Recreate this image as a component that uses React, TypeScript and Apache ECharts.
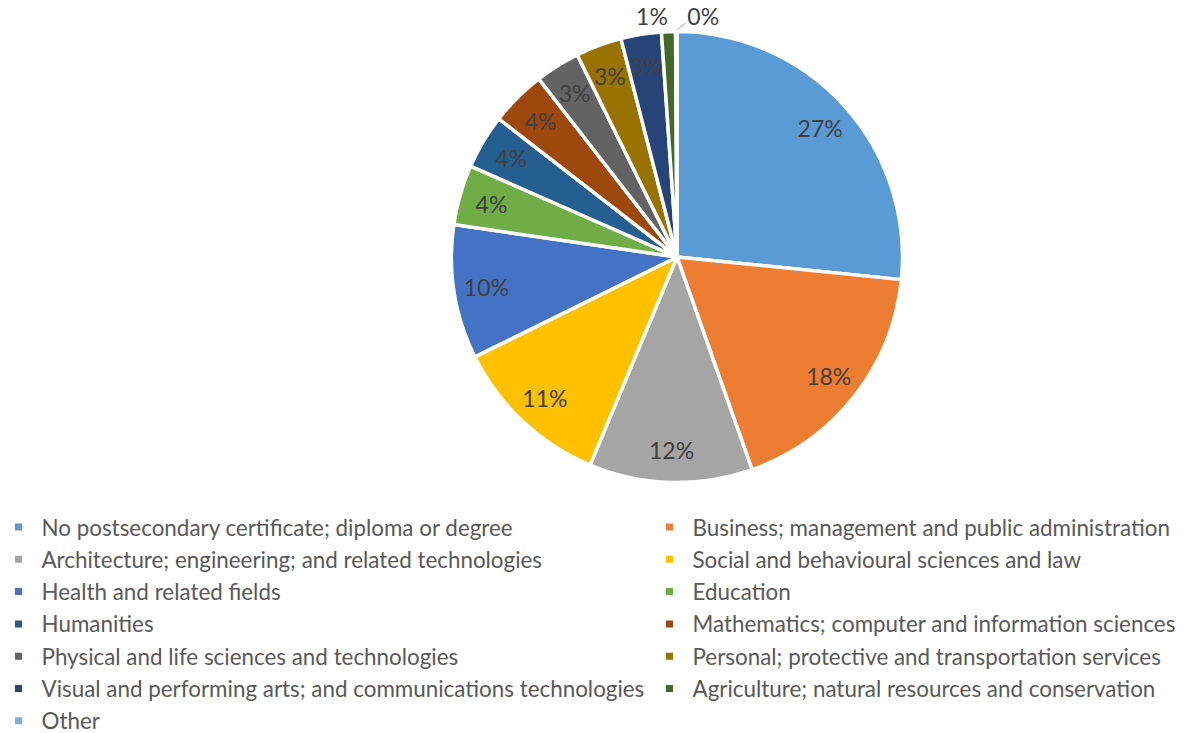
import React, { useEffect, useRef } from 'react';
import * as echarts from 'echarts';

const categories = [
  'No postsecondary certificate; diploma or degree',
  'Business; management and public administration',
  'Architecture; engineering; and related technologies',
  'Social and behavioural sciences and law',
  'Health and related fields',
  'Education',
  'Humanities',
  'Mathematics; computer and information sciences',
  'Physical and life sciences and technologies',
  'Personal; protective and transportation services',
  'Visual and performing arts; and communications technologies',
  'Agriculture; natural resources and conservation',
  'Other',
];

const shares = [26.6, 18.0, 11.7, 11.4, 9.6, 4.3, 3.9, 4.0, 3.2, 3.3, 2.9, 1.0, 0.1];

const colors = [
  '#5B9BD5', '#ED7D31', '#A5A5A5', '#FFC000', '#4472C4', '#70AD47', '#255E91',
  '#9E480E', '#636363', '#997300', '#264478', '#43682B', '#7CAFDD',
];

const outsideTopLeft = 'Agriculture; natural resources and conservation';
const outsideTopRight = 'Other';

const CENTER = [677, 257];
const R = 225.5;
const FONT = 'Lato, "Open Sans", sans-serif';

export default function App() {
  const ref = useRef<HTMLDivElement>(null);

  useEffect(() => {
    if (!ref.current) return;
    const chart = echarts.init(ref.current, null, { renderer: 'svg' });

    const pieData = categories.map((name, i) => ({ name, value: shares[i] }));
    const labelData = categories.map((name, i) => {
      const item: any = { name, value: shares[i] };
      if (name === outsideTopLeft) {
        item.label = { position: 'outside', distanceToLabelLine: 0 };
        item.labelLine = { show: false, length: 16, length2: 0 };
      } else if (name === outsideTopRight) {
        item.label = { position: 'outside', distanceToLabelLine: 0 };
        item.labelLine = { show: true, length: 6, length2: 0, lineStyle: { color: '#A6A6A6', width: 1 } };
      }
      return item;
    });
    const otherIndex = categories.indexOf(outsideTopRight);

    const legendCommon = {
      orient: 'vertical',
      top: 515,
      padding: 0,
      icon: 'rect',
      itemWidth: 9,
      itemHeight: 9,
      itemGap: 8.3,
      selectedMode: false,
      textStyle: {
        fontFamily: FONT,
        fontSize: 22.4,
        lineHeight: 24,
        color: '#595959',
        padding: [0, 0, 0, 13.5],
      },
    };

    chart.setOption({
      animation: false,
      color: colors,
      legend: [
        { ...legendCommon, left: 13, data: categories.filter((_, i) => i % 2 === 0) },
        { ...legendCommon, left: 664, data: categories.filter((_, i) => i % 2 === 1) },
      ],
      series: [
        {
          type: 'pie',
          center: CENTER,
          radius: R,
          startAngle: 90,
          clockwise: true,
          avoidLabelOverlap: false,
          label: { show: false },
          labelLine: { show: false },
          emphasis: { disabled: true },
          itemStyle: { borderColor: '#ffffff', borderWidth: 3.5 },
          data: pieData,
        },
        {
          type: 'pie',
          center: CENTER,
          radius: [154.5, R],
          startAngle: 90,
          clockwise: true,
          silent: true,
          avoidLabelOverlap: false,
          emphasis: { disabled: true },
          itemStyle: { color: 'transparent', borderWidth: 0 },
          label: {
            show: true,
            position: 'inside',
            color: '#404040',
            fontFamily: FONT,
            fontSize: 23,
            formatter: (p: any) => Math.round(p.percent) + '%',
          },
          labelLine: { show: false },
          labelLayout: (p: any) => {
            if (p.dataIndex !== otherIndex) return {};
            const x0 = p.rect.x + p.rect.width / 2;
            const y0 = p.rect.y;
            return {
              x: x0 + 11,
              y: y0 - 16,
              align: 'left',
              verticalAlign: 'middle',
              labelLinePoints: [[x0, y0 - 1], [x0 + 10, y0 - 9]],
            };
          },
          data: labelData,
        },
      ],
    });

    return () => chart.dispose();
  }, []);

  return (
    <div
      ref={ref}
      style={{ position: 'absolute', left: 0, top: 0, width: 1184, height: 733, background: '#fff' }}
    />
  );
}
